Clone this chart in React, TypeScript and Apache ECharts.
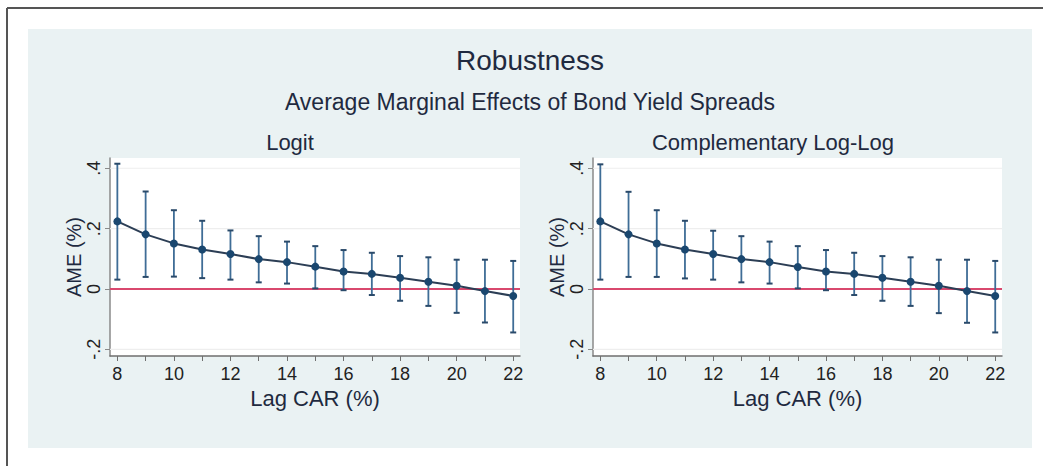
import React, { useEffect, useRef } from "react";
import * as echarts from "echarts";

const lagCar = [8, 9, 10, 11, 12, 13, 14, 15, 16, 17, 18, 19, 20, 21, 22];
const logitAme = [0.224, 0.181, 0.151, 0.131, 0.116, 0.099, 0.089, 0.074, 0.058, 0.050, 0.037, 0.024, 0.011, -0.007, -0.023];
const logitHi = [0.415, 0.323, 0.261, 0.226, 0.194, 0.175, 0.157, 0.142, 0.129, 0.120, 0.109, 0.105, 0.097, 0.097, 0.093];
const logitLo = [0.031, 0.040, 0.041, 0.036, 0.031, 0.022, 0.018, 0.002, -0.004, -0.020, -0.039, -0.056, -0.079, -0.111, -0.144];
const cloglogAme = [0.224, 0.181, 0.151, 0.131, 0.116, 0.099, 0.089, 0.073, 0.058, 0.050, 0.037, 0.024, 0.011, -0.007, -0.023];
const cloglogHi = [0.413, 0.322, 0.261, 0.226, 0.193, 0.175, 0.157, 0.142, 0.129, 0.120, 0.109, 0.105, 0.097, 0.097, 0.093];
const cloglogLo = [0.031, 0.040, 0.040, 0.035, 0.031, 0.022, 0.018, 0.002, -0.004, -0.020, -0.039, -0.056, -0.080, -0.112, -0.144];

const xTickValues = [8, 9, 10, 11, 12, 13, 14, 15, 16, 17, 18, 19, 20, 21, 22];
const xLabelValues = [8, 10, 12, 14, 16, 18, 20, 22];
const yTickValues = [-0.2, 0, 0.2, 0.4];
const yTickLabels = ["-.2", "0", ".2", ".4"];

const mainTitle = "Robustness";
const subTitle = "Average Marginal Effects of Bond Yield Spreads";
const panelTitles = ["Logit", "Complementary Log-Log"];
const xAxisTitle = "Lag CAR (%)";
const yAxisTitle = "AME (%)";

const FONT = "Liberation Sans, Arial, sans-serif";
const TEXT = "#1f2a40";

export default function App() {
  const ref = useRef<HTMLDivElement>(null);
  useEffect(() => {
    if (!ref.current) return;
    const chart = echarts.init(ref.current, undefined, { renderer: "svg" });

    const panels = [
      { ame: logitAme, hi: logitHi, lo: logitLo },
      { ame: cloglogAme, hi: cloglogHi, lo: cloglogLo },
    ];
    const grids = [
      { left: 110, top: 158, width: 410, height: 198 },
      { left: 593, top: 158, width: 409, height: 198 },
    ];

    const xAxes = grids.map((_, i) => ({
      type: "value",
      gridIndex: i,
      min: 7.74,
      max: 22.24,
      name: xAxisTitle,
      nameLocation: "middle",
      nameGap: 31,
      nameTextStyle: { fontFamily: FONT, fontSize: 22, color: TEXT },
      axisLine: { show: true, onZero: false, lineStyle: { color: "#6f6f6f", width: 1.5 } },
      axisTick: { show: true, inside: false, length: 5, customValues: xTickValues, lineStyle: { color: "#6f6f6f" } },
      axisLabel: {
        customValues: xLabelValues,
        fontFamily: FONT,
        fontSize: 18,
        color: "#222",
        margin: 9,
        formatter: (v: number) => String(v),
      },
      splitLine: { show: false },
    }));

    const yAxes = grids.map((_, i) => ({
      type: "value",
      gridIndex: i,
      min: -0.222,
      max: 0.434,
      name: yAxisTitle,
      nameLocation: "middle",
      nameGap: 26,
      nameTextStyle: { fontFamily: FONT, fontSize: 20, color: TEXT },
      axisLine: { show: true, onZero: false, lineStyle: { color: "#8a8a8a", width: 1.5 } },
      axisTick: { show: true, inside: false, length: 5, customValues: yTickValues, lineStyle: { color: "#8a8a8a" } },
      axisLabel: {
        customValues: yTickValues,
        rotate: 90,
        fontFamily: FONT,
        fontSize: 18,
        color: "#222",
        margin: 7,
        formatter: (v: number) => {
          let best = 0;
          yTickValues.forEach((t, k) => {
            if (Math.abs(t - v) < Math.abs(yTickValues[best] - v)) best = k;
          });
          return yTickLabels[best];
        },
      },
      splitLine: { show: false },
    }));

    const series: any[] = [];
    panels.forEach((p, i) => {
      // gridlines
      series.push({
        type: "custom",
        xAxisIndex: i,
        yAxisIndex: i,
        z: 1,
        silent: true,
        data: yTickValues.map((v) => [0, v]),
        encode: { x: 0, y: 1 },
        renderItem: (params: any, api: any) => {
          const v = api.value(1);
          const cs = params.coordSys;
          const y = api.coord([8, v])[1];
          const isZero = Math.abs(v) < 1e-9;
          return {
            type: "line",
            shape: { x1: cs.x, y1: y, x2: cs.x + cs.width, y2: y },
            style: isZero
              ? { stroke: "#d9486e", lineWidth: 2 }
              : { stroke: "#eeeeee", lineWidth: 1.2 },
          };
        },
      });
      // error bars
      series.push({
        type: "custom",
        xAxisIndex: i,
        yAxisIndex: i,
        z: 3,
        data: lagCar.map((x, k) => [x, p.lo[k], p.hi[k]]),
        encode: { x: 0, y: [1, 2] },
        renderItem: (params: any, api: any) => {
          const x = api.value(0);
          const lo = api.coord([x, api.value(1)]);
          const hi = api.coord([x, api.value(2)]);
          const cap = 3;
          const st = { stroke: "#3f6d96", lineWidth: 1.8 };
          const cst = { stroke: "#2a4a6a", lineWidth: 2 };
          return {
            type: "group",
            children: [
              { type: "line", shape: { x1: lo[0], y1: lo[1], x2: hi[0], y2: hi[1] }, style: st },
              { type: "line", shape: { x1: hi[0] - cap, y1: hi[1], x2: hi[0] + cap, y2: hi[1] }, style: cst },
              { type: "line", shape: { x1: lo[0] - cap, y1: lo[1], x2: lo[0] + cap, y2: lo[1] }, style: cst },
            ],
          };
        },
      });
      // line with markers
      series.push({
        type: "line",
        xAxisIndex: i,
        yAxisIndex: i,
        z: 4,
        data: lagCar.map((x, k) => [x, p.ame[k]]),
        symbol: "circle",
        symbolSize: 8,
        showSymbol: true,
        lineStyle: { color: "#2c3e55", width: 2 },
        itemStyle: { color: "#1a476f" },
      });
    });

    chart.setOption({
      animation: false,
      backgroundColor: "#ffffff",
      grid: grids.map((g) => ({ ...g, show: true, backgroundColor: "#ffffff", borderWidth: 0 })),
      xAxis: xAxes,
      yAxis: yAxes,
      series,
      graphic: [
        { type: "rect", z: -10, shape: { x: 28, y: 29, width: 1004, height: 419 }, style: { fill: "#eaf2f3" } },
        { type: "line", z: 10, shape: { x1: 7, y1: 8, x2: 1043, y2: 8 }, style: { stroke: "#555", lineWidth: 2 } },
        { type: "line", z: 10, shape: { x1: 7, y1: 8, x2: 7, y2: 466 }, style: { stroke: "#555", lineWidth: 2 } },
        { type: "text", x: 530, y: 60, style: { text: mainTitle, font: `28px ${FONT}`, fill: TEXT, textAlign: "center", textVerticalAlign: "middle" } },
        { type: "text", x: 530, y: 102, style: { text: subTitle, font: `23px ${FONT}`, fill: TEXT, textAlign: "center", textVerticalAlign: "middle" } },
        { type: "text", x: 290, y: 142, style: { text: panelTitles[0], font: `22px ${FONT}`, fill: TEXT, textAlign: "center", textVerticalAlign: "middle" } },
        { type: "text", x: 773, y: 142, style: { text: panelTitles[1], font: `22px ${FONT}`, fill: TEXT, textAlign: "center", textVerticalAlign: "middle" } },
      ],
    });
    return () => chart.dispose();
  }, []);
  return <div ref={ref} style={{ position: "fixed", left: 0, top: 0, width: 1043, height: 466 }} />;
}
